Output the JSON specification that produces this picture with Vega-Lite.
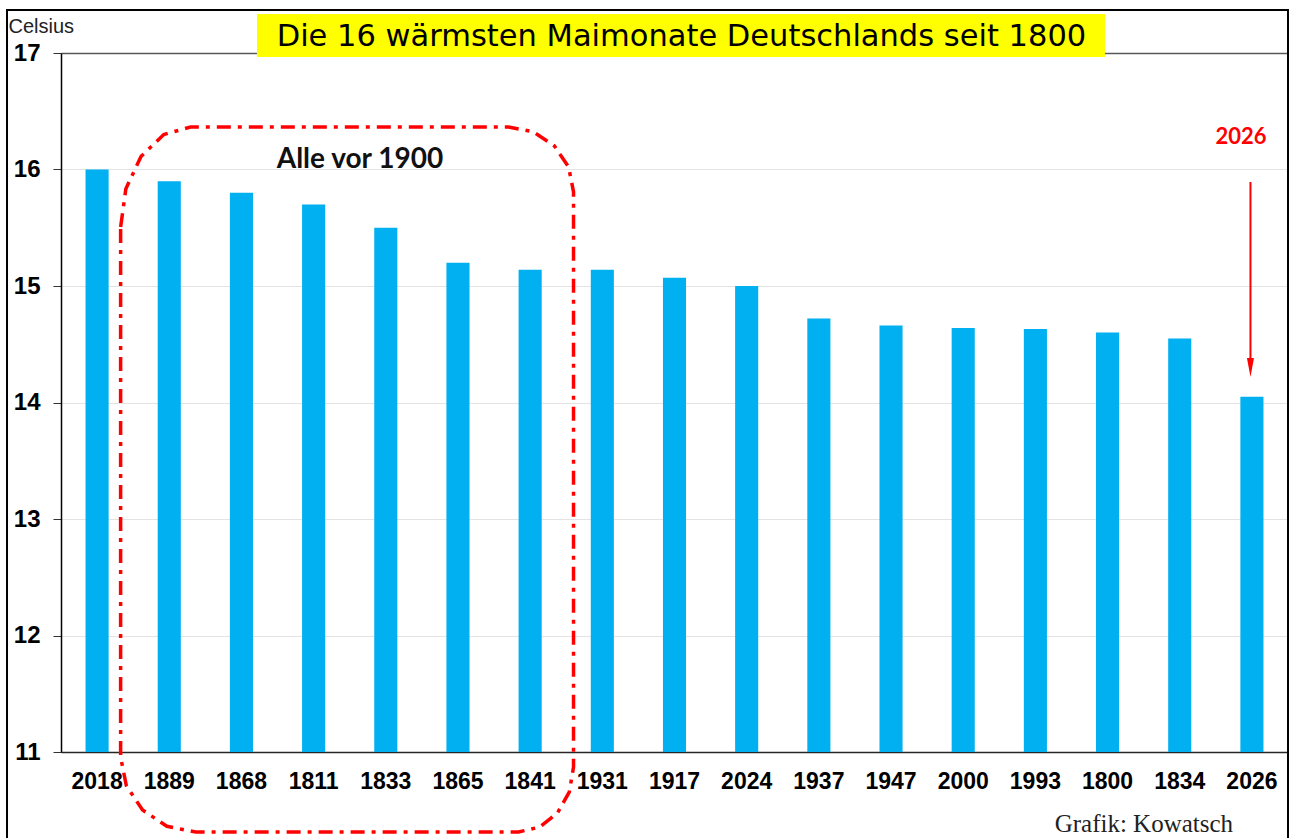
{
  "$schema": "https://vega.github.io/schema/vega-lite/v6.json",
  "width": 1227,
  "height": 699,
  "autosize": {"type": "none"},
  "padding": {"left": 61, "top": 53, "right": 3, "bottom": 86},
  "background": "white",
  "config": {"view": {"stroke": null}, "font": "Liberation Sans"},
  "layer": [
    {
      "data": {
        "values": [
          {"Jahr": "2018", "Celsius": 16.0},
          {"Jahr": "1889", "Celsius": 15.9},
          {"Jahr": "1868", "Celsius": 15.8},
          {"Jahr": "1811", "Celsius": 15.7},
          {"Jahr": "1833", "Celsius": 15.5},
          {"Jahr": "1865", "Celsius": 15.2},
          {"Jahr": "1841", "Celsius": 15.14},
          {"Jahr": "1931", "Celsius": 15.14},
          {"Jahr": "1917", "Celsius": 15.07},
          {"Jahr": "2024", "Celsius": 15.0},
          {"Jahr": "1937", "Celsius": 14.72},
          {"Jahr": "1947", "Celsius": 14.66},
          {"Jahr": "2000", "Celsius": 14.64},
          {"Jahr": "1993", "Celsius": 14.63},
          {"Jahr": "1800", "Celsius": 14.6},
          {"Jahr": "1834", "Celsius": 14.55},
          {"Jahr": "2026", "Celsius": 14.05}
        ]
      },
      "mark": {"type": "bar", "color": "#00B0F0"},
      "encoding": {
        "x": {
          "field": "Jahr",
          "type": "nominal",
          "sort": null,
          "scale": {"paddingInner": 0.68, "paddingOuter": 0.34},
          "axis": {
            "title": null,
            "labelAngle": 0,
            "labelFont": "Liberation Sans",
            "labelFontSize": 23,
            "labelFontWeight": "bold",
            "labelColor": "black",
            "ticks": false,
            "labelPadding": 18,
            "domainColor": "#262626",
            "domainWidth": 1.5
          }
        },
        "y": {
          "field": "Celsius",
          "type": "quantitative",
          "scale": {"domain": [11, 17], "zero": false, "nice": false},
          "axis": {
            "values": [11, 12, 13, 14, 15, 16, 17],
            "format": "d",
            "title": "Celsius",
            "titleFont": "Liberation Sans",
            "titleFontSize": 20,
            "titleFontWeight": "normal",
            "titleAngle": 0,
            "titleAlign": "left",
            "titleBaseline": "alphabetic",
            "titleX": -53,
            "titleY": -21,
            "titleColor": "#222222",
            "labelFont": "Liberation Sans",
            "labelFontSize": 24,
            "labelFontWeight": "bold",
            "labelColor": "black",
            "labelPadding": 13,
            "tickSize": 8,
            "tickColor": "#333333",
            "domainColor": "black",
            "domainWidth": 1.5,
            "grid": true,
            "gridColor": {"condition": {"test": "datum.value == 17", "value": "#595959"}, "value": "#e3e3e3"},
            "gridWidth": {"condition": {"test": "datum.value == 17", "value": 1.5}, "value": 1}
          }
        },
        "y2": {"datum": 11}
      }
    },
    {
      "layer": [
        {
          "data": {"values": [{"rahmen": "Rahmen"}]},
          "mark": {"type": "rect", "fillOpacity": 0, "stroke": "black", "strokeWidth": 2},
          "encoding": {
            "x": {"datum": -0.748, "type": "quantitative", "scale": {"domain": [0, 17]}, "axis": null},
            "x2": {"datum": 17.0},
            "y": {"datum": 17.369, "type": "quantitative", "scale": {"domain": [11, 17]}},
            "y2": {"datum": 10.0}
          }
        },
        {
          "data": {
            "values": [
              {"i": 1, "bx": 0.826, "by": 15.506},
              {"i": 2, "bx": 0.899, "by": 15.835},
              {"i": 3, "bx": 1.11, "by": 16.113},
              {"i": 4, "bx": 1.424, "by": 16.3},
              {"i": 5, "bx": 1.795, "by": 16.365},
              {"i": 6, "bx": 6.2, "by": 16.365},
              {"i": 7, "bx": 6.545, "by": 16.323},
              {"i": 8, "bx": 6.837, "by": 16.202},
              {"i": 9, "bx": 7.033, "by": 16.021},
              {"i": 10, "bx": 7.101, "by": 15.807},
              {"i": 11, "bx": 7.101, "by": 10.871},
              {"i": 12, "bx": 7.043, "by": 10.658},
              {"i": 13, "bx": 6.878, "by": 10.476},
              {"i": 14, "bx": 6.63, "by": 10.355},
              {"i": 15, "bx": 6.339, "by": 10.313},
              {"i": 16, "bx": 1.865, "by": 10.313},
              {"i": 17, "bx": 1.467, "by": 10.362},
              {"i": 18, "bx": 1.13, "by": 10.502},
              {"i": 19, "bx": 0.905, "by": 10.711},
              {"i": 20, "bx": 0.826, "by": 10.957},
              {"i": 21, "bx": 0.826, "by": 15.506}
            ]
          },
          "mark": {"type": "line", "color": "#FF0000", "strokeWidth": 3.5, "strokeDash": [14, 7, 4, 7], "interpolate": "linear"},
          "encoding": {
            "x": {"field": "bx", "type": "quantitative", "scale": {"domain": [0, 17]}, "axis": null},
            "y": {"field": "by", "type": "quantitative", "scale": {"domain": [11, 17]}, "title": "Celsius"},
            "order": {"field": "i", "type": "quantitative"}
          }
        },
        {
          "data": {"values": [{"titel": "Die 16 wärmsten Maimonate Deutschlands seit 1800"}]},
          "mark": {"type": "rect", "color": "#FFFF00"},
          "encoding": {
            "x": {"datum": 2.715, "type": "quantitative", "scale": {"domain": [0, 17]}, "axis": null},
            "x2": {"datum": 14.464},
            "y": {"datum": 17.335, "type": "quantitative", "scale": {"domain": [11, 17]}},
            "y2": {"datum": 16.966}
          }
        },
        {
          "data": {"values": [{"titel": "Die 16 wärmsten Maimonate Deutschlands seit 1800"}]},
          "mark": {"type": "text", "font": "DejaVu Sans", "fontSize": 30.5, "color": "black", "align": "center", "baseline": "middle"},
          "encoding": {
            "x": {"datum": 8.596, "type": "quantitative", "scale": {"domain": [0, 17]}, "axis": null},
            "y": {"datum": 17.14, "type": "quantitative", "scale": {"domain": [11, 17]}},
            "text": {"field": "titel"}
          }
        },
        {
          "data": {"values": [{"hinweis": "Alle vor 1900"}]},
          "mark": {"type": "text", "font": "Lato", "fontSize": 28, "fontWeight": "bold", "color": "#111111", "align": "center", "baseline": "middle"},
          "encoding": {
            "x": {"datum": 4.142, "type": "quantitative", "scale": {"domain": [0, 17]}, "axis": null},
            "y": {"datum": 16.082, "type": "quantitative", "scale": {"domain": [11, 17]}},
            "text": {"field": "hinweis"}
          }
        },
        {
          "data": {"values": [{"hinweis": "2026"}]},
          "mark": {"type": "text", "font": "Lato", "fontSize": 22, "fontWeight": "bold", "color": "#FF0000", "align": "center", "baseline": "middle"},
          "encoding": {
            "x": {"datum": 16.35, "type": "quantitative", "scale": {"domain": [0, 17]}, "axis": null},
            "y": {"datum": 16.275, "type": "quantitative", "scale": {"domain": [11, 17]}},
            "text": {"field": "hinweis"}
          }
        },
        {
          "data": {"values": [{"hinweis": "2026"}]},
          "mark": {"type": "rule", "color": "#FF0000", "strokeWidth": 2},
          "encoding": {
            "x": {"datum": 16.48, "type": "quantitative", "scale": {"domain": [0, 17]}, "axis": null},
            "y": {"datum": 15.893, "type": "quantitative", "scale": {"domain": [11, 17]}},
            "y2": {"datum": 14.36}
          }
        },
        {
          "data": {"values": [{"hinweis": "2026"}]},
          "mark": {"type": "point", "shape": "M-0.35,-0.95L0.35,-0.95L0,0.95Z", "filled": true, "color": "#FF0000", "opacity": 1, "size": 400},
          "encoding": {
            "x": {"datum": 16.48, "type": "quantitative", "scale": {"domain": [0, 17]}, "axis": null},
            "y": {"datum": 14.3, "type": "quantitative", "scale": {"domain": [11, 17]}}
          }
        },
        {
          "data": {"values": [{"quelle": "Grafik: Kowatsch"}]},
          "mark": {"type": "text", "font": "Liberation Serif", "fontSize": 25, "color": "#222222", "align": "center", "baseline": "alphabetic"},
          "encoding": {
            "x": {"datum": 15.003, "type": "quantitative", "scale": {"domain": [0, 17]}, "axis": null},
            "y": {"datum": 10.313, "type": "quantitative", "scale": {"domain": [11, 17]}},
            "text": {"field": "quelle"}
          }
        }
      ]
    }
  ],
  "resolve": {"scale": {"x": "independent"}}
}
